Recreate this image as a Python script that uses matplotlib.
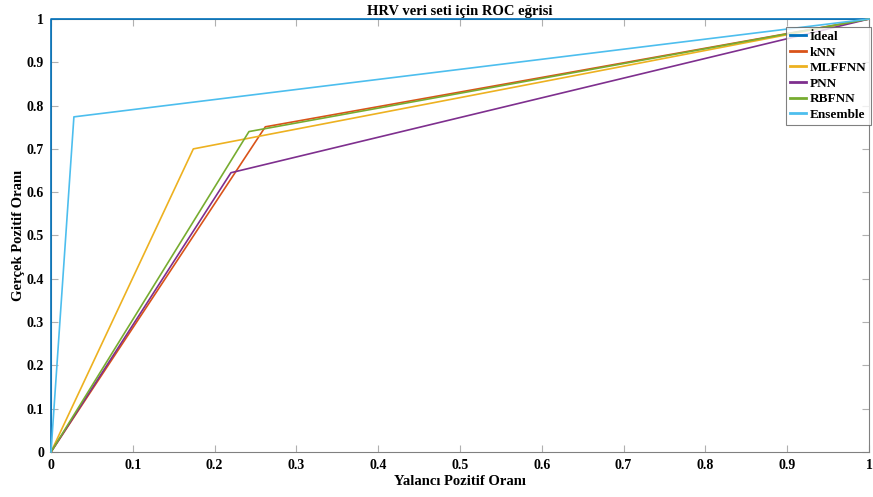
import matplotlib
matplotlib.use("Agg")
import matplotlib.pyplot as plt

names = ["İdeal", "kNN", "MLFFNN", "PNN", "RBFNN", "Ensemble"]
fpr = [
    [0, 0, 1],
    [0, 0.262, 1],
    [0, 0.174, 1],
    [0, 0.220, 1],
    [0, 0.242, 1],
    [0, 0.028, 1],
]
tpr = [
    [0, 1, 1],
    [0, 0.751, 1],
    [0, 0.700, 1],
    [0, 0.645, 1],
    [0, 0.740, 1],
    [0, 0.774, 1],
]
colors = ["#0072BD", "#D95319", "#EDB120", "#7E2F8E", "#77AC30", "#4DBEEE"]
ticks = [0, 0.1, 0.2, 0.3, 0.4, 0.5, 0.6, 0.7, 0.8, 0.9, 1]
tick_labels = ["0", "0.1", "0.2", "0.3", "0.4", "0.5", "0.6", "0.7", "0.8", "0.9", "1"]

plt.rcParams["font.family"] = ["Liberation Serif", "DejaVu Serif"]
plt.rcParams["font.weight"] = "bold"

fig = plt.figure(figsize=(8.73, 4.97), dpi=100)
ax = fig.add_axes([51/873, 45/497, 818/873, 433/497])

for n, x, y, c in zip(names, fpr, tpr, colors):
    ax.plot(x, y, color=c, lw=1.2, label=n, clip_on=False, zorder=3)

ax.set_xlim(0, 1)
ax.set_ylim(0, 1)
ax.set_xticks(ticks)
ax.set_xticklabels(tick_labels, fontsize=10, fontweight="bold")
ax.set_yticks(ticks)
ax.set_yticklabels(tick_labels, fontsize=10, fontweight="bold")
ax.tick_params(direction="in", length=5, color="#b0b0b0", top=True, right=True, pad=5)
for s in ax.spines.values():
    s.set_color("#808080")
    s.set_linewidth(0.8)

ax.set_title("HRV veri seti için ROC eğrisi", fontsize=10.5, fontweight="bold", pad=3)
ax.set_xlabel("Yalancı Pozitif Oranı", fontsize=10.5, fontweight="bold", labelpad=2)
ax.set_ylabel("Gerçek Pozitif Oranı", fontsize=10.5, fontweight="bold", labelpad=1)

leg = ax.legend(loc="upper right", bbox_to_anchor=(1.002, 0.982), fontsize=9.5,
                frameon=True, fancybox=False, borderpad=0.3, labelspacing=0.25,
                handlelength=1.25, handletextpad=0.3, borderaxespad=0.0)
leg.get_frame().set_edgecolor("#606060")
leg.get_frame().set_linewidth(0.8)
for t in leg.get_texts():
    t.set_fontweight("bold")
for h in leg.get_lines():
    h.set_linewidth(2.0)
leg.set_zorder(5)

fig.savefig("out.png", dpi=100)
